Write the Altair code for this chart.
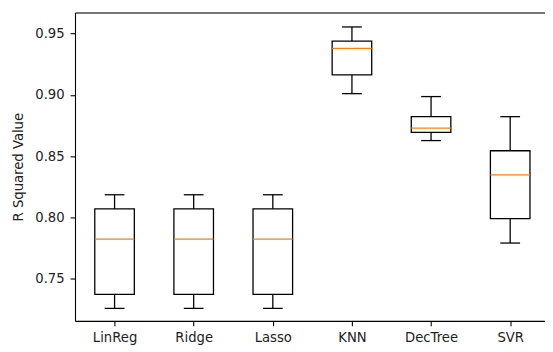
import json
import altair as alt
import pandas as pd

categories = ["LinReg", "Ridge", "Lasso", "KNN", "DecTree", "SVR"]
whisker_low = [0.7258, 0.7258, 0.7258, 0.9010, 0.8627, 0.7791]
q1 = [0.7373, 0.7373, 0.7373, 0.9163, 0.8694, 0.7990]
median = [0.7823, 0.7823, 0.7823, 0.9380, 0.8729, 0.8348]
q3 = [0.8070, 0.8070, 0.8070, 0.9439, 0.8822, 0.8544]
whisker_high = [0.8185, 0.8185, 0.8185, 0.9554, 0.8986, 0.8822]
y_ticks = [0.75, 0.80, 0.85, 0.90, 0.95]

df = pd.DataFrame({
    "model": categories,
    "pos": list(range(1, len(categories) + 1)),
    "lo": whisker_low,
    "q1": q1,
    "med": median,
    "q3": q3,
    "hi": whisker_high,
})

label_expr = json.dumps(categories) + "[datum.value - 1]"

xscale = alt.Scale(domain=[0.5, 6.44], nice=False, zero=False)
yscale = alt.Scale(domain=[0.7156, 0.9672], nice=False, zero=False)

fs = 13.4
x_axis = alt.Axis(values=list(range(1, 7)), labelExpr=label_expr, title=None,
                  grid=False, tickSize=5, labelPadding=5, domainColor="black",
                  tickColor="black", labelColor="#222", labelFontSize=fs,
                  labelFont="DejaVu Sans", domainWidth=1.1, tickWidth=1.1)
y_axis = alt.Axis(values=y_ticks, format=".2f", title="R Squared Value",
                  grid=False, tickSize=5, labelPadding=6, domainColor="black",
                  tickColor="black", labelColor="#222", labelFontSize=fs,
                  labelFont="DejaVu Sans", titleFont="DejaVu Sans",
                  titleFontSize=fs, titleFontWeight="normal", titleColor="#222",
                  titlePadding=9, domainWidth=1.1, tickWidth=1.1)

base = alt.Chart(df).transform_calculate(
    bl="datum.pos - 0.25", br="datum.pos + 0.25",
    cl="datum.pos - 0.125", cr="datum.pos + 0.125",
)

lw = 1.3

whisk_lo = base.mark_rule(color="black", strokeWidth=lw).encode(
    x=alt.X("pos:Q", scale=xscale, axis=x_axis),
    y=alt.Y("lo:Q", scale=yscale, axis=y_axis),
    y2="q1:Q",
)
whisk_hi = base.mark_rule(color="black", strokeWidth=lw).encode(
    x=alt.X("pos:Q", scale=xscale, axis=None),
    y=alt.Y("q3:Q", scale=yscale), y2="hi:Q",
)
cap_lo = base.mark_rule(color="black", strokeWidth=lw).encode(
    x=alt.X("cl:Q", scale=xscale, axis=None), x2="cr:Q",
    y=alt.Y("lo:Q", scale=yscale),
)
cap_hi = base.mark_rule(color="black", strokeWidth=lw).encode(
    x=alt.X("cl:Q", scale=xscale, axis=None), x2="cr:Q",
    y=alt.Y("hi:Q", scale=yscale),
)
box = base.mark_rect(fill=None, stroke="black", strokeWidth=lw).encode(
    x=alt.X("bl:Q", scale=xscale, axis=None), x2="br:Q",
    y=alt.Y("q1:Q", scale=yscale), y2="q3:Q",
)
med = base.mark_rule(color="#ff7f0e", strokeWidth=lw).encode(
    x=alt.X("bl:Q", scale=xscale, axis=None), x2="br:Q",
    y=alt.Y("med:Q", scale=yscale),
)
top_border = base.mark_rule(opacity=0).encode(
    x=alt.X("pos:Q", scale=xscale,
            axis=alt.Axis(orient="top", labels=False, ticks=False, title=None,
                          grid=False, domainColor="black", domainWidth=1.1)),
    y=alt.Y("med:Q", scale=yscale),
)

chart = alt.layer(whisk_lo, whisk_hi, cap_lo, cap_hi, box, med, top_border).resolve_axis(
    x="independent"
).properties(
    width=477, height=313,
    autosize=alt.AutoSizeParams(type="none"),
    padding={"left": 68, "top": 2, "right": 0, "bottom": 28},
).configure_view(stroke=None).configure(background="white")

chart.save("out.html", embed_options={"renderer": "svg", "actions": False})
